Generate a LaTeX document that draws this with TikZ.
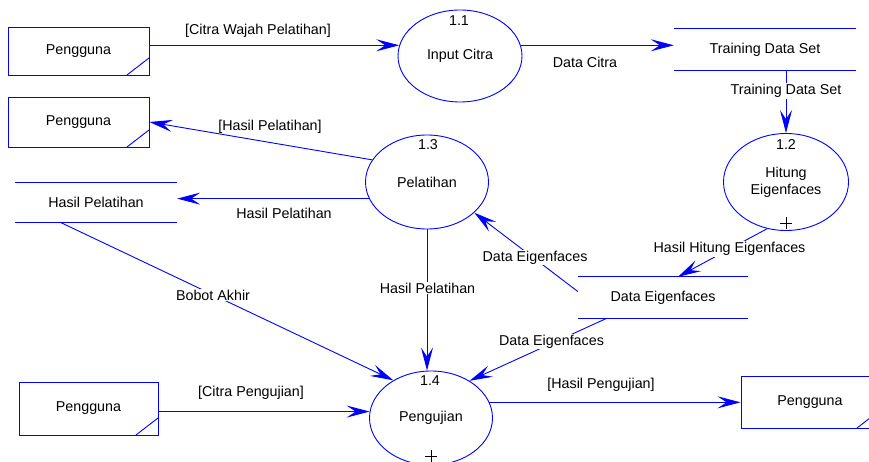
\documentclass[tikz,border=0pt]{standalone}
\usepackage{fontspec}
\setmainfont{Liberation Sans}
\usetikzlibrary{arrows.meta,shapes.geometric}
\begin{document}
\begin{tikzpicture}[x=1pt,y=-1pt,
  bl/.style={draw=blue,line width=0.9pt},
  flow/.style={bl,-{Stealth[length=23pt,width=12pt,inset=9pt]}},
  every node/.style={font=\fontsize{14.3}{16}\selectfont,text=black},
  ent/.style={bl, rectangle, inner sep=0pt,
    path picture={\draw[bl] ([xshift=-22pt]path picture bounding box.south east) -- ([yshift=17pt]path picture bounding box.south east);}},
  store/.style={inner sep=0pt,
    append after command={\pgfextra{\draw[bl] (\tikzlastnode.north west) -- (\tikzlastnode.north east) (\tikzlastnode.south west) -- (\tikzlastnode.south east);}}},
  proc/.style={bl, ellipse, inner sep=0pt},
  lbl/.style={inner sep=1pt},
  onl/.style={inner sep=1pt, fill=white}]
\useasboundingbox (0,0) rectangle (869,462);

% external entities
\node[ent, minimum width=141pt, minimum height=48pt] (e1) at (78.5,51) {Pengguna};
\node[ent, minimum width=141pt, minimum height=50pt] (e2) at (78.5,122) {Pengguna};
\node[ent, minimum width=139pt, minimum height=53pt] (e3) at (88.5,408.5) {Pengguna};
\node[ent, minimum width=138pt, minimum height=52pt] (e4) at (810,402) {Pengguna};

% data stores
\node[store, minimum width=182pt, minimum height=41pt] (ts) at (765,49.5) {Training Data Set};
\node[store, minimum width=162pt, minimum height=39pt] (hp) at (96,202.5) {Hasil Pelatihan};
\node[store, minimum width=170pt, minimum height=41pt] (de) at (663,297.5) {Data Eigenfaces};

% processes
\node[proc, minimum width=124pt, minimum height=92pt] (p11) at (460,56) {Input Citra};
\node[proc, minimum width=125pt, minimum height=97pt, align=center] (p12) at (786,182) {Hitung\\[1pt]Eigenfaces};
\node[proc, minimum width=123pt, minimum height=94pt] (p13) at (427,182) {Pelatihan};
\node[proc, minimum width=123pt, minimum height=94pt] (p14) at (431,418) {Pengujian};

\node (n11) at (459,20.5) {1.1};
\node (n12) at (786,145) {1.2};
\node (n13) at (428,145) {1.3};
\node (n14) at (430,381) {1.4};
\draw[black,line width=0.6pt] (780,223) -- (792,223) (786,217) -- (786,229);
\draw[black,line width=0.6pt] (425,456) -- (437,456) (431,450) -- (431,462);

% flows
\draw[flow] (p11.170 -| e1.east) -- (p11.170);
\draw[flow] (p11.10) -- (p11.10 -| ts.west);
\draw[flow] (p12.north |- ts.south) -- (p12.north);
\draw[flow] (p12.248) -- ([xshift=15pt]de.north);
\draw[flow] ([yshift=6pt]de.west) -- (p13.327);
\draw[flow] (p13.158) -- (e2.east);
\draw[flow] (p13.196) -- (p13.196 -| hp.east);
\draw[flow] ([xshift=-36pt]hp.south) -- (p14.135);
\draw[flow] (p13.south) -- (p13.south |- p14.north);
\draw[flow] ([xshift=-56pt]de.south) -- (p14.44);
\draw[flow] (p14.174 -| e3.east) -- (p14.174);
\draw[flow] (p14.15) -- (p14.15 -| e4.west);

% labels
\node[lbl] (l1) at (258,31) {[Citra Wajah Pelatihan]};
\node[lbl] (l2) at (585,62.5) {Data Citra};
\node[onl] (l3) at (786,91) {Training Data Set};
\node[lbl] (l4) at (270,127) {[Hasil Pelatihan]};
\node[lbl] (l5) at (284,213) {Hasil Pelatihan};
\node[onl] (l6) at (729.5,249) {Hasil Hitung Eigenfaces};
\node[onl] (l7) at (535,257.5) {Data Eigenfaces};
\node[onl] (l8) at (213,295) {Bobot Akhir};
\node[onl] (l9) at (427.5,288) {Hasil Pelatihan};
\node[onl] (l10) at (551.5,341.5) {Data Eigenfaces};
\node[lbl] (l11) at (251,393) {[Citra Pengujian]};
\node[lbl] (l12) at (601,385) {[Hasil Pengujian]};
\end{tikzpicture}
\end{document}
